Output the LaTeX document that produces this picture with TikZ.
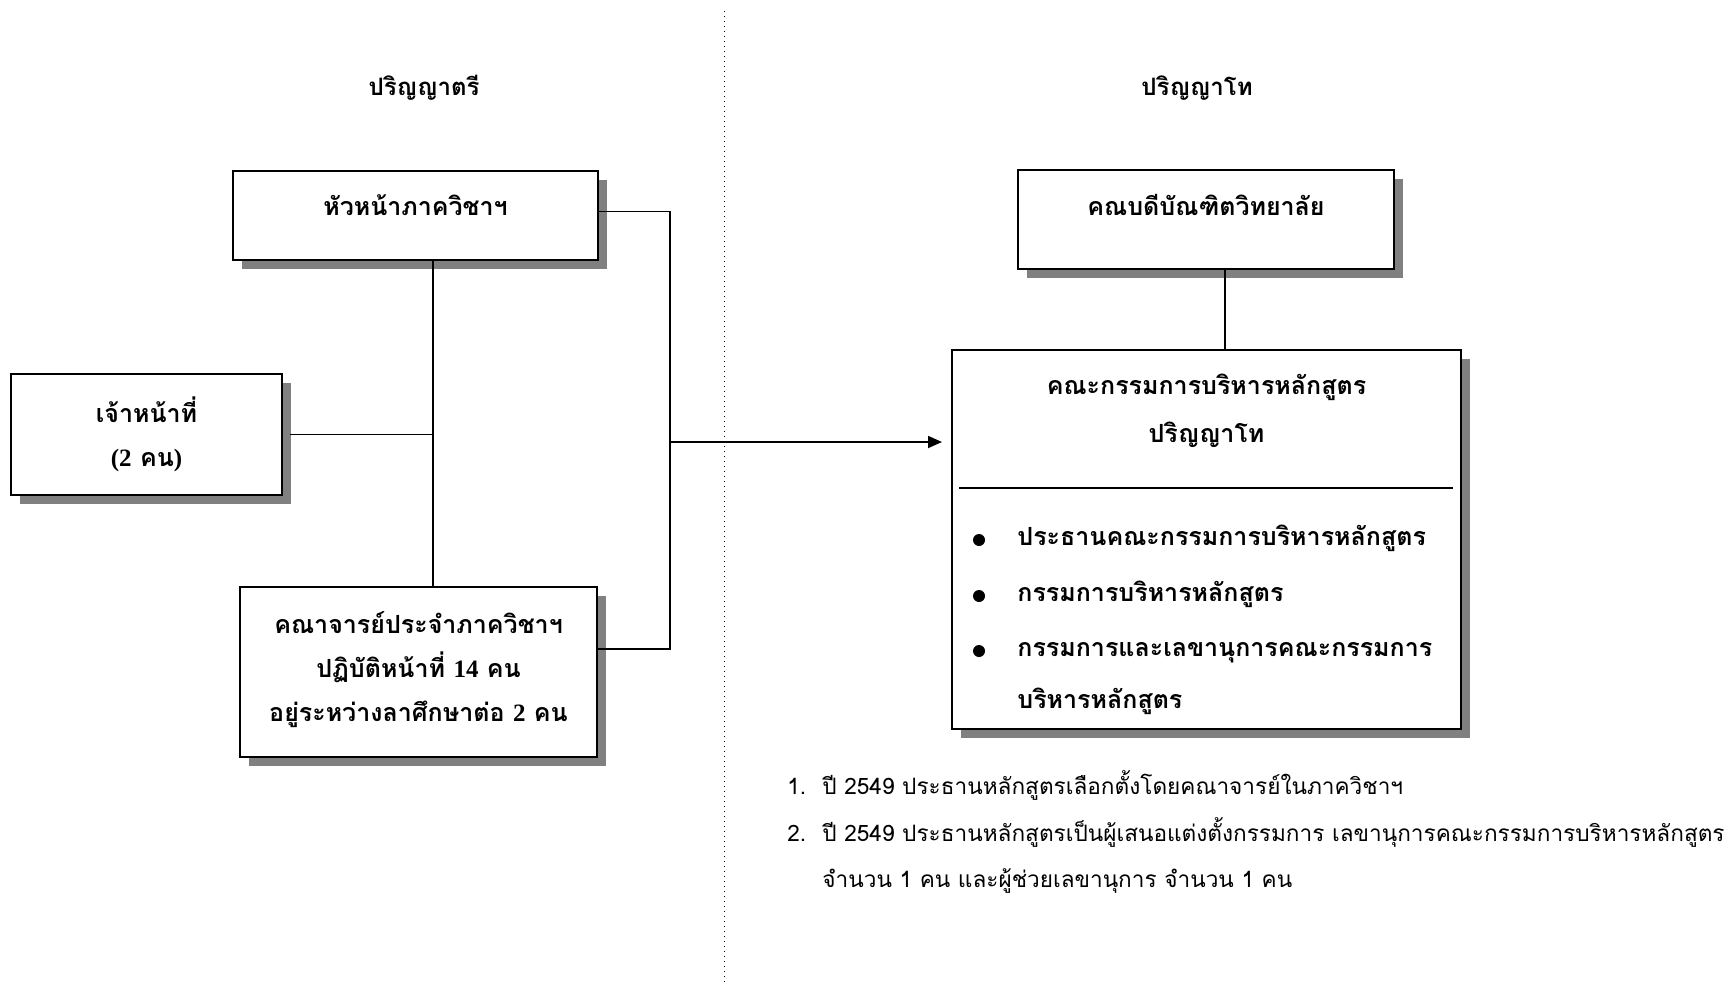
\documentclass[tikz,border=0pt]{standalone}
\usepackage{fontspec}
\setmainfont[Script=Thai]{Loma}
\newfontfamily\numfont{Liberation Serif}
\usetikzlibrary{arrows.meta, calc, shadows}

\tikzset{
  box/.style={draw, line width=1pt, fill=white,
    drop shadow={shadow xshift=4.5pt, shadow yshift=-4.5pt, fill=black!50, opacity=1}},
  boxtext/.style={font=\fontsize{12.5}{22}\selectfont\bfseries, align=center},
  heading/.style={font=\fontsize{12}{14}\selectfont\bfseries},
  roletext/.style={font=\fontsize{12.5}{15}\selectfont\bfseries, anchor=mid west, inner sep=0pt},
  notetext/.style={font=\fontsize{11.3}{13}\selectfont, anchor=mid west, inner sep=0pt},
  link/.style={line width=0.9pt},
  divider/.style={line width=0.5pt, dotted}
}

\begin{document}
\begin{tikzpicture}[x=0.5pt, y=-0.5pt]
  \useasboundingbox (0,0) rectangle (1728,985);

  % Headings
  \node[heading] (bachelor) at (424,88) {ปริญญาตรี};
  \node[heading] (master) at (1197,88) {ปริญญาโท};
  \draw[divider] (724,11) -- (724,985);

  % Bachelor side
  \node[box, minimum width=182.5pt, minimum height=44.5pt] (head) at (415.5,215.5) {};
  \node[boxtext] (headlbl) at (415.5,205) {หัวหน้าภาควิชาฯ};
  \node[box, boxtext, minimum width=135.5pt, minimum height=60.5pt] (staff) at (146.5,434.5)
    {เจ้าหน้าที่\\{\numfont(2} คน{\numfont)}};
  \node[box, boxtext, minimum width=178.5pt, minimum height=85pt] (faculty) at (418.5,672)
    {คณาจารย์ประจำภาควิชาฯ\\ปฏิบัติหน้าที่ {\numfont 14} คน\\อยู่ระหว่างลาศึกษาต่อ {\numfont 2} คน\\[-17pt]};

  \coordinate (spine) at (433,0);
  \coordinate (railbot) at (670,649);
  \coordinate (feed) at (670,442);
  \draw[link] (head.south -| spine) -- (faculty.north -| spine);
  \draw[link] ([xshift=3.5pt]staff.east) -- (staff.east -| spine);
  \draw[link] ([yshift=2pt]head.east) -| (railbot) -- (railbot -| faculty.east);

  % Master side
  \node[box, minimum width=188pt, minimum height=49.5pt] (dean) at (1206,219.5) {};
  \node[boxtext] (deanlbl) at (1206,205) {คณบดีบัณฑิตวิทยาลัย};
  \node[box, minimum width=254.5pt, minimum height=189.5pt] (committee) at (1206.5,539.5) {};
  \node[boxtext, font=\fontsize{12.5}{24}\selectfont\bfseries] (committeelbl) at (1206.5,411)
    {คณะกรรมการบริหารหลักสูตร\\ปริญญาโท};
  \draw[link] ($(committee.north west)+(8,139)$) -- ($(committee.north east)+(-9,139)$);

  \coordinate (drop) at (1225,0);
  \draw[link] (dean.south -| drop) -- (committee.north -| drop);
  \draw[link, -{Triangle[length=7pt, width=6pt]}, shorten >=4.5pt] (feed) -- (feed -| committee.west);

  % Roles
  \foreach \y in {540,596,651}
    \fill (979,\y) circle (3pt);
  \node[roletext] (role1) at (1017,540) {ประธานคณะกรรมการบริหารหลักสูตร};
  \node[roletext] (role2) at (1017,596) {กรรมการบริหารหลักสูตร};
  \node[roletext] (role3) at (1017,651) {กรรมการและเลขานุการคณะกรรมการ};
  \node[roletext] (role3b) at (1017,703) {บริหารหลักสูตร};

  % Notes
  \node[notetext] (num1) at (787,789) {1.};
  \node[notetext] (note1) at (822,789) {ปี 2549 ประธานหลักสูตรเลือกตั้งโดยคณาจารย์ในภาควิชาฯ};
  \node[notetext] (num2) at (787,836) {2.};
  \node[notetext] (note2) at (822,836) {ปี 2549 ประธานหลักสูตรเป็นผู้เสนอแต่งตั้งกรรมการ เลขานุการคณะกรรมการบริหารหลักสูตร};
  \node[notetext] (note2b) at (822,882) {จำนวน 1 คน และผู้ช่วยเลขานุการ จำนวน 1 คน};
\end{tikzpicture}
\end{document}
